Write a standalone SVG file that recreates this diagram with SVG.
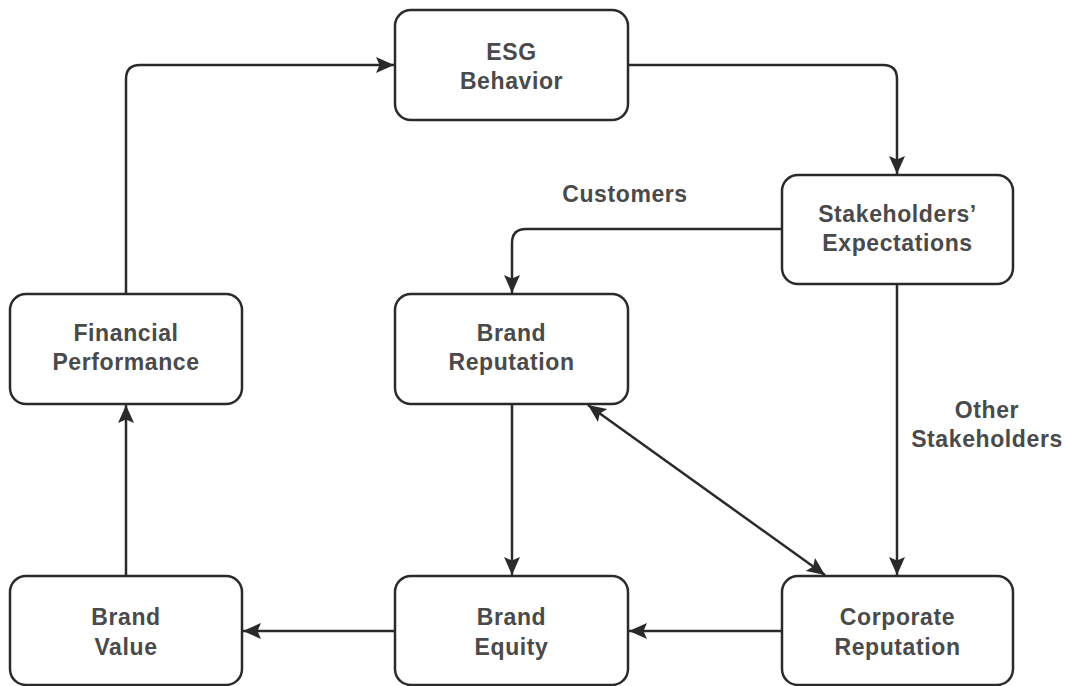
<svg xmlns="http://www.w3.org/2000/svg" width="1065" height="686" viewBox="0 0 1065 686">
  <style>
    .box { fill: #ffffff; stroke: #2a2a2a; stroke-width: 2.5; }
    .lbl { font-family: "Liberation Sans", Arial, sans-serif; font-weight: bold; font-size: 23px; letter-spacing: 0.6px; fill: #4a4a4a; text-anchor: middle; }
    .edge { fill: none; stroke: #2a2a2a; stroke-width: 2.5; }
  </style>
  <defs>
    <marker id="arrow" viewBox="0 0 18 16" refX="18" refY="8" markerWidth="18" markerHeight="16" markerUnits="userSpaceOnUse" orient="auto-start-reverse">
      <path d="M0,0 L18,8 L0,16 L3.5,8 Z" fill="#2a2a2a"/>
    </marker>
  </defs>

  <rect width="1065" height="686" fill="#ffffff"/>

  <!-- connectors -->
  <g id="connectors">
    <path class="edge" d="M126,294 V79 Q126,65 140,65 H394" marker-end="url(#arrow)"/>
    <path class="edge" d="M628,65 H883 Q897,65 897,79 V174" marker-end="url(#arrow)"/>
    <path class="edge" d="M782,229 H526 Q512,229 512,243 V293" marker-end="url(#arrow)"/>
    <path class="edge" d="M897,284 V575" marker-end="url(#arrow)"/>
    <path class="edge" d="M512,404 V575" marker-end="url(#arrow)"/>
    <path class="edge" d="M588,405 L825,575" marker-start="url(#arrow)" marker-end="url(#arrow)"/>
    <path class="edge" d="M782,631 H629" marker-end="url(#arrow)"/>
    <path class="edge" d="M395,631 H243" marker-end="url(#arrow)"/>
    <path class="edge" d="M126,576 V405" marker-end="url(#arrow)"/>
    <text class="lbl" x="625" y="202">Customers</text>
    <text class="lbl" x="987" y="418">Other</text>
    <text class="lbl" x="987" y="447">Stakeholders</text>
  </g>

  <g id="esg-behavior">
    <rect class="box" x="395" y="10" width="233" height="110" rx="16"/>
    <text class="lbl" x="511.5" y="60">ESG</text>
    <text class="lbl" x="511.5" y="89">Behavior</text>
  </g>

  <g id="stakeholders-expectations">
    <rect class="box" x="782" y="175" width="231" height="109" rx="16"/>
    <text class="lbl" x="897.5" y="222">Stakeholders’</text>
    <text class="lbl" x="897.5" y="251">Expectations</text>
  </g>

  <g id="financial-performance">
    <rect class="box" x="10" y="294" width="232" height="110" rx="16"/>
    <text class="lbl" x="126" y="341">Financial</text>
    <text class="lbl" x="126" y="370">Performance</text>
  </g>

  <g id="brand-reputation">
    <rect class="box" x="395" y="294" width="233" height="110" rx="16"/>
    <text class="lbl" x="511.5" y="341">Brand</text>
    <text class="lbl" x="511.5" y="370">Reputation</text>
  </g>

  <g id="brand-value">
    <rect class="box" x="10" y="576" width="232" height="109" rx="16"/>
    <text class="lbl" x="126" y="625">Brand</text>
    <text class="lbl" x="126" y="655">Value</text>
  </g>

  <g id="brand-equity">
    <rect class="box" x="395" y="576" width="233" height="109" rx="16"/>
    <text class="lbl" x="511.5" y="625">Brand</text>
    <text class="lbl" x="511.5" y="655">Equity</text>
  </g>

  <g id="corporate-reputation">
    <rect class="box" x="782" y="576" width="231" height="109" rx="16"/>
    <text class="lbl" x="897.5" y="625">Corporate</text>
    <text class="lbl" x="897.5" y="655">Reputation</text>
  </g>
</svg>
